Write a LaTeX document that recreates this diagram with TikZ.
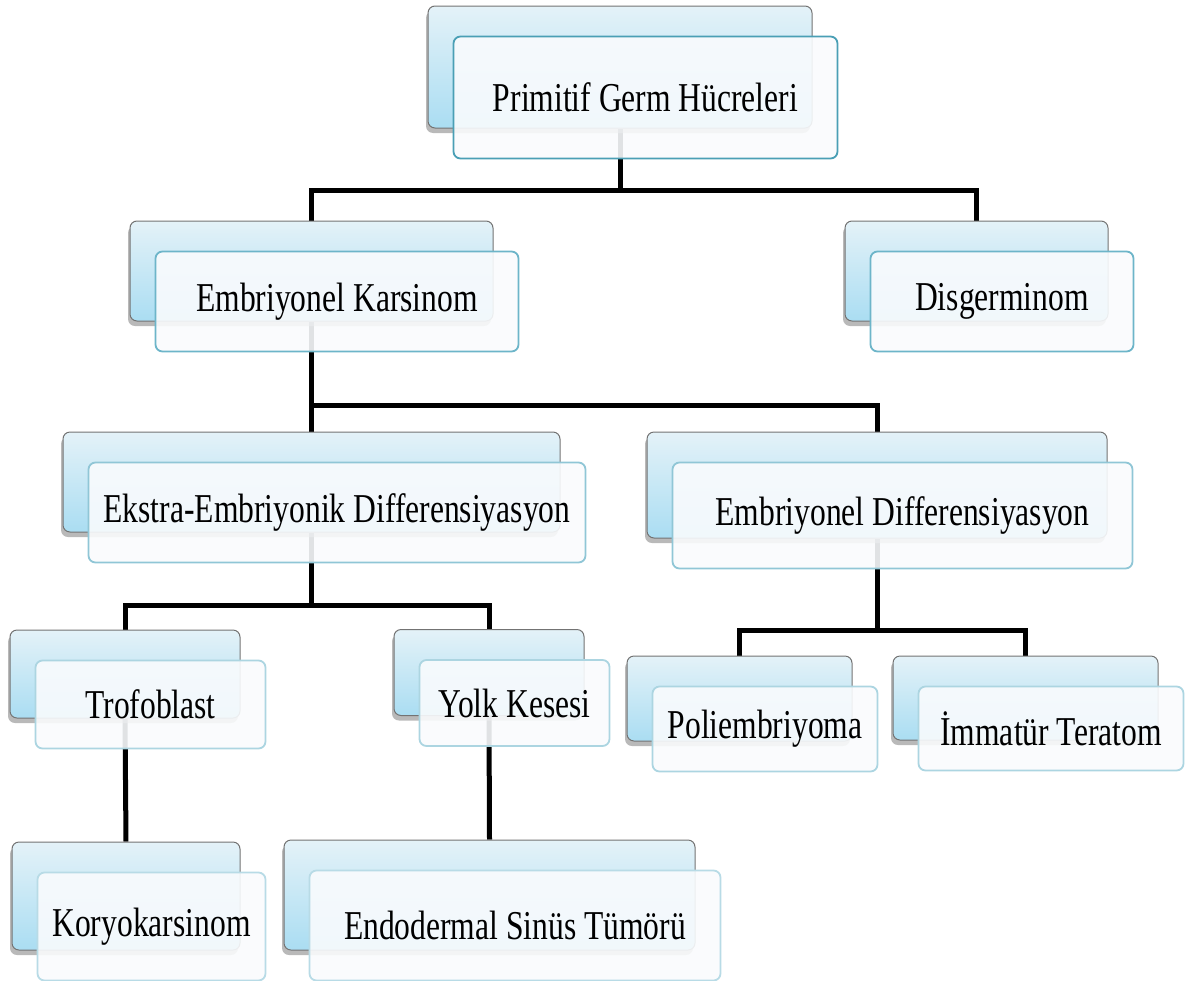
\documentclass[tikz,border=0pt]{standalone}
\usepackage{fontspec}
\setmainfont{Liberation Serif}[FakeStretch=0.77]
\usetikzlibrary{shadows,backgrounds}
\definecolor{bbtop}{HTML}{E4F2F8}
\definecolor{bbbot}{HTML}{AADDF2}
\definecolor{frontfill}{HTML}{F9FBFD}
\definecolor{lvA}{HTML}{4A9FB5}
\definecolor{lvB}{HTML}{6DB5C9}
\definecolor{lvC}{HTML}{90C6D6}
\definecolor{lvD}{HTML}{ACD5E1}
\definecolor{lvE}{HTML}{B8DBE6}
\tikzset{
 backbox/.style={rounded corners=7pt, draw=black!55, line width=1pt,
   top color=bbtop, bottom color=bbbot,
   drop shadow={shadow xshift=-2pt, shadow yshift=-5pt, opacity=0.55},
   inner sep=0pt},
 frontbox/.style={rounded corners=7pt, draw=#1, line width=1.8pt,
   fill=frontfill, fill opacity=0.9, text opacity=1, inner sep=0pt,
   font=\fontsize{41}{48}\selectfont},
 conn/.style={line width=5pt, draw=black}
}
\newcommand\boxpair[7]{%
 \node[backbox, minimum width=#4pt, minimum height=#5pt] (#1B) at (#2,#3) {};
 \node[frontbox=#7, minimum width=#4pt, minimum height=#5pt] (#1F) at (#2+25.5,#3+30.5) {#6};
}
\begin{document}
\begin{tikzpicture}[x=1pt,y=-1pt]
\useasboundingbox (0,0) rectangle (1190,980);
\boxpair{pg}{620}{67}{384}{122}{Primitif Germ Hücreleri}{lvA}
\boxpair{ek}{311.5}{271}{363}{100}{Embriyonel Karsinom}{lvB}
\boxpair{dg}{976.5}{271}{263}{100}{Disgerminom}{lvB}
\boxpair{ee}{311.5}{482}{497}{100}{Ekstra-Embriyonik Differensiyasyon}{lvC}
\boxpair{ed}{877}{485}{460}{106}{Embriyonel Differensiyasyon}{lvC}
\boxpair{tr}{125}{674}{230}{88}{Trofoblast}{lvD}
\boxpair{yk}{489}{672.5}{190}{86}{Yolk Kesesi}{lvD}
\boxpair{pe}{739.5}{698.5}{225}{85}{Poliembriyoma}{lvD}
\boxpair{it}{1025.5}{698}{265}{84}{İmmatür Teratom}{lvD}
\boxpair{ko}{126}{896}{228}{108}{Koryokarsinom}{lvE}
\boxpair{es}{489.5}{895}{411}{110}{Endodermal Sinüs Tümörü}{lvE}
\begin{pgfonlayer}{background}
\draw[conn] (pgB.south) -- ++(0,62) coordinate (j1);
\draw[conn] (ekB.north) |- (j1) -| (dgB.north);
\draw[conn] (ekB.south) -- ++(0,84) coordinate (j2);
\draw[conn] (eeB.north) |- (j2) -| (edB.north);
\draw[conn] (eeB.south) -- ++(0,73) coordinate (j3);
\draw[conn] (trB.north) |- (j3) -| (ykB.north);
\draw[conn] (edB.south) -- ++(0,92) coordinate (j4);
\draw[conn] (peB.north) |- (j4) -| (itB.north);
\draw[conn] (trB.south) -- (koB.north);
\draw[conn] (ykB.south) -- (esB.north);
\end{pgfonlayer}
\end{tikzpicture}
\end{document}
